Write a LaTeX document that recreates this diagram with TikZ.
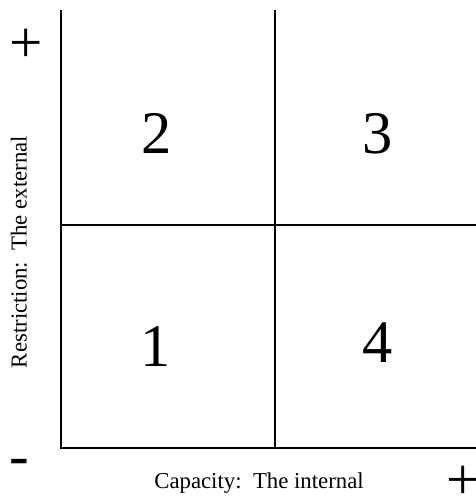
\documentclass[tikz,border=0pt]{standalone}
\usepackage{fontspec}
\setmainfont{Liberation Serif}
\usetikzlibrary{positioning}
\tikzset{
  qnum/.style={font=\fontsize{43}{43}\selectfont, inner sep=0pt},
  axlabel/.style={font=\fontsize{16.2}{19}\selectfont, inner sep=0pt},
  signmark/.style={font=\fontsize{42}{42}\selectfont, inner sep=0pt},
  gridline/.style={line width=0.8pt},
}
\begin{document}
\begin{tikzpicture}[x=0.025cm,y=-0.025cm]
  \useasboundingbox (0,0) rectangle (476,496);

  % frame and quadrant lines
  \coordinate (T) at (61,10);
  \coordinate (O) at (61,448);
  \coordinate (R) at (476,448);
  \coordinate (MT) at (275,10);
  \coordinate (MB) at (275,448);
  \coordinate (ML) at (61,225);
  \coordinate (MR) at (476,225);
  \draw[gridline] (T) -- (O) -- (R);
  \draw[gridline] (MT) -- (MB);
  \draw[gridline] (ML) -- (MR);

  % quadrant numbers
  \node[qnum] (q2) at (157,133) {2};
  \node[qnum] (q3) at (378,134) {3};
  \node[qnum] (q1) at (156,347) {1};
  \node[qnum] (q4) at (378,343) {4};

  % axis labels
  \node[axlabel, rotate=90] (ylab) at (19,252) {Restriction:\ \ The external};
  \node[axlabel] (xlab) at (259,483) {Capacity:\ \ The internal};

  % signs
  \node[signmark] (yplus) at (26,46) {+};
  \node[signmark] (yminus) at (19.5,467.5) {-};
  \node[signmark] (xplus) at (463,483) {+};
\end{tikzpicture}
\end{document}
